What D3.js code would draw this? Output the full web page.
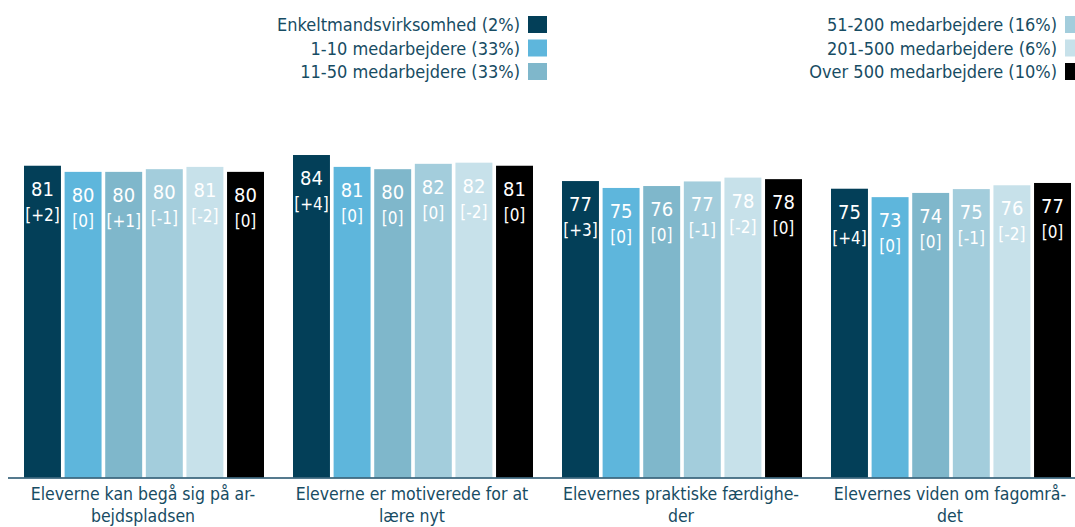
<!DOCTYPE html>
<html lang="en">
  <head>
    <meta charset="utf-8">
    <title>Elevernes kompetencer</title>
    <script src="https://cdn.jsdelivr.net/npm/d3@7"></script>
    <style>
      body { margin: 0; background: #fff; }
      text { font-family: "DejaVu Sans Condensed", "DejaVu Sans", Verdana, sans-serif; font-stretch: condensed; }
    </style>
  </head>
  <body>
    <div id="chart"></div>
    <script type="text/javascript">
      // categories (two lines each, as in the original axis)
      const categories = [
          ["Eleverne kan begå sig på ar-", "bejdspladsen"],
          ["Eleverne er motiverede for at", "lære nyt"],
          ["Elevernes praktiske færdighe-", "der"],
          ["Elevernes viden om fagområ-", "det"]
      ];
      const series = [
          "Enkeltmandsvirksomhed (2%)",
          "1-10 medarbejdere (33%)",
          "11-50 medarbejdere (33%)",
          "51-200 medarbejdere (16%)",
          "201-500 medarbejdere (6%)",
          "Over 500 medarbejdere (10%)"
      ];
      const colors = ["#033f58", "#5eb6dc", "#7fb7cb", "#a3cddc", "#c7e1ea", "#000000"];

      // bar heights (one array per category)
      const values = [
          [81.4, 79.8, 79.8, 80.5, 81.1, 79.8],
          [84.2, 81.1, 80.5, 81.9, 82.2, 81.4],
          [77.4, 75.6, 76.1, 77.3, 78.3, 77.9],
          [75.4, 73.2, 74.3, 75.3, 76.3, 76.9]
      ];
      // printed labels
      const labels = [
          [81, 80, 80, 80, 81, 80],
          [84, 81, 80, 82, 82, 81],
          [77, 75, 76, 77, 78, 78],
          [75, 73, 74, 75, 76, 77]
      ];
      const diffs = [
          ["+2", "0", "+1", "-1", "-2", "0"],
          ["+4", "0", "0", "0", "-2", "0"],
          ["+3", "0", "0", "-1", "-2", "0"],
          ["+4", "0", "0", "-1", "-2", "0"]
      ];

      const textColor = "#174c63";
      const svgWidth = 1075, svgHeight = 527;

      const svg = d3.select("#chart")
          .append("svg")
          .attr("width", svgWidth)
          .attr("height", svgHeight);

      const x0 = d3.scaleBand()
          .domain(d3.range(categories.length))
          .range([11, 11 + 269 * 4]);

      const x1 = d3.scaleBand()
          .domain(d3.range(series.length))
          .range([13, 253])
          .paddingInner(0.09);

      const y = d3.scaleLinear()
          .domain([0, 100])
          .range([477.5, 94.5]);

      // bars
      const groups = svg.selectAll("g.group")
          .data(values)
          .enter().append("g")
          .attr("class", "group")
          .attr("transform", (d, i) => `translate(${x0(i)},0)`);

      groups.selectAll("rect")
          .data(d => d)
          .enter().append("rect")
          .attr("x", (d, j) => x1(j))
          .attr("y", d => y(d))
          .attr("width", x1.bandwidth())
          .attr("height", d => y(0) - y(d))
          .attr("fill", (d, j) => colors[j]);

      groups.selectAll("text.val")
          .data((d, i) => d.map((v, j) => ({v, j, lab: labels[i][j]})))
          .enter().append("text")
          .attr("class", "val")
          .attr("x", d => x1(d.j) + x1.bandwidth() / 2)
          .attr("y", d => y(d.v) + 30)
          .attr("text-anchor", "middle")
          .attr("fill", "#fff")
          .style("font-size", "20px")
          .text(d => d.lab);

      groups.selectAll("text.diff")
          .data((d, i) => d.map((v, j) => ({v, j, lab: diffs[i][j]})))
          .enter().append("text")
          .attr("class", "diff")
          .attr("x", d => x1(d.j) + x1.bandwidth() / 2)
          .attr("y", d => y(d.v) + 55)
          .attr("text-anchor", "middle")
          .attr("fill", "#fff")
          .style("font-size", "17px")
          .text(d => `[${d.lab}]`);

      // axis line
      svg.append("line")
          .attr("x1", 8).attr("x2", svgWidth)
          .attr("y1", y(0) + 0.5).attr("y2", y(0) + 0.5)
          .attr("stroke", "#1d4e68")
          .attr("stroke-width", 1.5);

      // category labels
      const catLabels = svg.selectAll("text.cat")
          .data(categories)
          .enter().append("text")
          .attr("class", "cat")
          .attr("text-anchor", "middle")
          .attr("fill", textColor)
          .style("font-size", "17.5px")
          .attr("transform", (d, i) => `translate(${x0(i) + 132},0)`);

      catLabels.selectAll("tspan")
          .data(d => d)
          .enter().append("tspan")
          .attr("x", 0)
          .attr("y", (d, k) => 500 + k * 22)
          .text(d => d);

      // legend, two right-aligned columns
      const legend = svg.selectAll("g.legend")
          .data(series)
          .enter().append("g")
          .attr("class", "legend")
          .attr("transform", (d, i) => {
              const col = Math.floor(i / 3), row = i % 3;
              return `translate(${col === 0 ? 547 : 1084},${24.5 + row * 23.5})`;
          });

      legend.append("rect")
          .attr("x", -19)
          .attr("y", -8.5)
          .attr("width", 19)
          .attr("height", 17)
          .attr("fill", (d, i) => colors[i]);

      legend.append("text")
          .attr("x", -27)
          .attr("y", 6.5)
          .attr("text-anchor", "end")
          .attr("fill", textColor)
          .style("font-size", "18px")
          .text(d => d);
    </script>
  </body>
</html>
